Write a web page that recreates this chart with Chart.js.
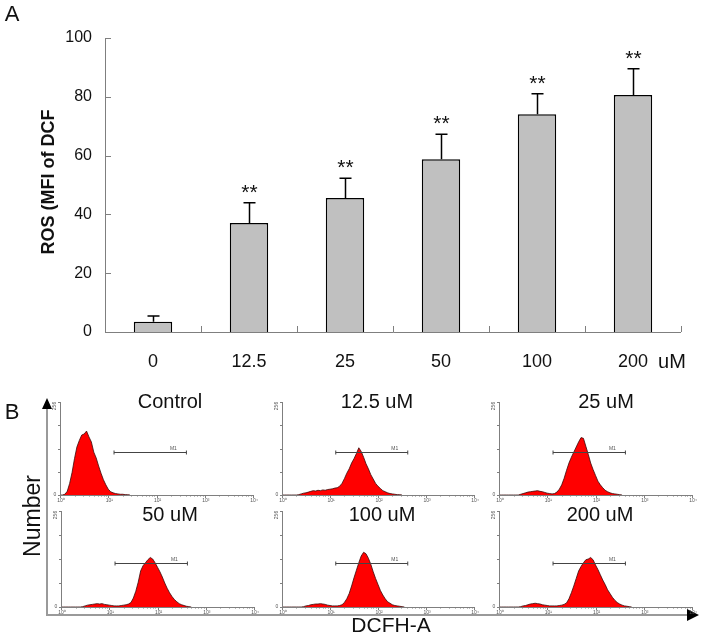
<!DOCTYPE html>
<html>
<head>
<meta charset="utf-8">
<script src="https://cdn.jsdelivr.net/npm/chart.js@4.4.1/dist/chart.umd.min.js"></script>
<style>
  html, body { margin: 0; padding: 0; background: #fff; }
  #wrap { position: relative; width: 704px; height: 637px; overflow: hidden; }
  #wrap canvas { position: absolute; }
</style>
</head>
<body>
<div id="wrap">
  <canvas id="main" width="704" height="637" style="left:0;top:0"></canvas>
</div>
<script>
// Panel A: ROS (MFI of DCF) by dose
const DOSES    = ['0', '12.5', '25', '50', '100', '200'];
const ROS_MEAN = [3.5, 37.1, 45.6, 58.8, 74.1, 80.6];
const ROS_SD   = [1.9, 6.9, 6.7, 8.5, 6.9, 8.9];
const SIG      = ['', '**', '**', '**', '**', '**'];
const Y_TICKS  = [0, 20, 40, 60, 80, 100];

// Panel B: flow histograms, x in decades (log10 of DCF fluorescence)
const HIST_X = [0, 0.05, 0.1, 0.15, 0.2, 0.25, 0.3, 0.35, 0.4, 0.45, 0.5, 0.55, 0.6, 0.65, 0.7, 0.75,
  0.8, 0.85, 0.9, 0.95, 1.0, 1.05, 1.1, 1.15, 1.2, 1.25, 1.3, 1.35, 1.4, 1.45, 1.5, 1.55, 1.6, 1.65,
  1.7, 1.75, 1.8, 1.85, 1.9, 1.95, 2.0, 2.05, 2.1, 2.15, 2.2, 2.25, 2.3, 2.35, 2.4, 2.45, 2.5, 2.55,
  2.6, 2.65, 2.7, 2.75, 2.8, 2.85, 2.9, 2.95, 3.0];
const HIST_DECADES = [0, 1, 2, 3, 4];
const HIST_DECADE_LABELS = ['10\u2070', '10\u00b9', '10\u00b2', '10\u00b3', '10\u2074'];
const M1_GATE = [1.12, 2.62];
const M1_LEVEL = 118;

const CNT_CTRL = [0, 0, 2, 10, 32, 62, 100, 132, 150, 165, 168, 176, 160, 146, 118, 102, 80, 60, 42, 28,
  16, 9, 6, 4, 3, 2, 2, 1, 1, 0];
const CNT_12 = [0, 0, 0, 0, 0, 0, 0, 1, 3, 5, 6, 8, 10, 12, 11, 13, 12, 14, 13, 15, 16, 17, 19, 20, 24,
  32, 45, 60, 72, 88, 100, 114, 130, 120, 104, 86, 72, 56, 44, 32, 24, 18, 12, 9, 6, 4, 3, 2, 1, 1, 0];
const CNT_25 = [0, 0, 0, 0, 0, 0, 0, 0, 0, 2, 4, 6, 8, 9, 10, 11, 12, 10, 9, 7, 5, 4, 3, 4, 8, 16, 28,
  46, 68, 88, 104, 118, 132, 146, 158, 156, 134, 112, 88, 70, 54, 38, 28, 20, 13, 9, 6, 4, 3, 2, 1, 0];
const CNT_50 = [0, 0, 0, 0, 0, 0, 0, 0, 0, 1, 3, 5, 6, 7, 8, 9, 8, 9, 7, 6, 5, 4, 3, 3, 3, 4, 5, 6, 8,
  12, 24, 42, 66, 96, 110, 118, 126, 132, 128, 118, 106, 94, 80, 64, 50, 38, 28, 20, 14, 9, 6, 4, 2, 1, 0];
const CNT_100 = [0, 0, 0, 0, 0, 0, 0, 0, 0, 1, 3, 4, 6, 7, 8, 8, 9, 8, 7, 5, 4, 3, 3, 3, 4, 6, 12, 22,
  36, 56, 78, 98, 118, 136, 146, 142, 130, 114, 94, 76, 60, 44, 32, 22, 14, 10, 6, 4, 3, 2, 1, 0];
const CNT_200 = [0, 0, 0, 0, 0, 0, 0, 0, 0, 1, 3, 4, 6, 8, 9, 10, 9, 8, 6, 5, 4, 3, 3, 3, 3, 4, 5, 7,
  11, 22, 38, 56, 76, 96, 108, 118, 126, 128, 132, 126, 112, 100, 86, 72, 60, 46, 36, 26, 18, 12, 8, 5,
  3, 2, 1, 0];

const HIST_TITLES = ['Control', '12.5 uM', '25 uM', '50 uM', '100 uM', '200 uM'];
const HIST_COUNTS = [CNT_CTRL, CNT_12, CNT_25, CNT_50, CNT_100, CNT_200];

// layout only: plot box [left, top, right, bottom] and title placement
const HIST_BOXES = [
  [60, 402, 253, 495], [282, 402, 474, 495], [499, 402, 692, 495],
  [61, 511, 254, 607], [282, 511, 474, 607], [499, 511, 692, 607]
];
const HIST_TITLE_POS = [[110, 0], [95, 0], [107, 0], [109, 4], [100, 4], [101, 4]];

const FONT = '"Liberation Sans", Arial, sans-serif';
const AXIS_GRAY = '#7f7f7f';

// ── Panel A decorations ─────────────────────────────────────────────────────

const panelA = {
  id: 'panelA',
  afterDatasetsDraw(chart) {
    const ctx = chart.ctx, ca = chart.chartArea;
    const xs = chart.scales.x, ys = chart.scales.y;
    ctx.save();

    // axes
    ctx.strokeStyle = AXIS_GRAY;
    ctx.lineWidth = 1;
    ctx.beginPath();
    ctx.moveTo(ca.left + 0.5, ca.top);
    ctx.lineTo(ca.left + 0.5, ca.bottom + 0.5);
    ctx.lineTo(ca.right, ca.bottom + 0.5);
    Y_TICKS.forEach(v => {
      const py = Math.round(ys.getPixelForValue(v)) + 0.5;
      ctx.moveTo(ca.left, py);
      ctx.lineTo(ca.left + 6, py);
    });
    const half = (xs.getPixelForValue(1) - xs.getPixelForValue(0)) / 2;
    for (let i = 0; i <= DOSES.length; i++) {
      const px = Math.round(xs.getPixelForValue(i) - half) + 0.5;
      ctx.moveTo(px, ca.bottom);
      ctx.lineTo(px, ca.bottom - 6);
    }
    ctx.stroke();

    // error bars + significance
    ctx.strokeStyle = '#000';
    ctx.lineWidth = 1.5;
    ctx.fillStyle = '#111';
    ctx.font = '21px ' + FONT;
    ctx.textAlign = 'center';
    ctx.textBaseline = 'alphabetic';
    ROS_MEAN.forEach((m, i) => {
      const cx = Math.round(xs.getPixelForValue(i)) + 0.5;
      const yb = ys.getPixelForValue(m);
      const yt = ys.getPixelForValue(m + ROS_SD[i]);
      ctx.beginPath();
      ctx.moveTo(cx, yb);
      ctx.lineTo(cx, yt);
      ctx.moveTo(cx - 6, yt);
      ctx.lineTo(cx + 6, yt);
      ctx.stroke();
      if (SIG[i]) ctx.fillText(SIG[i], cx, yt - 4);
    });

    // labels
    ctx.fillStyle = '#111';
    ctx.font = '20px ' + FONT;
    ctx.textBaseline = 'middle';
    ctx.fillText('uM', 672, 362);
    ctx.font = '22px ' + FONT;
    ctx.fillText('A', 12, 15);
    ctx.save();
    ctx.translate(49, 182);
    ctx.rotate(-Math.PI / 2);
    ctx.font = 'bold 18px ' + FONT;
    ctx.fillText('ROS (MFI of DCF', 0, 0);
    ctx.restore();

    // Panel B frame
    ctx.fillStyle = '#111';
    ctx.font = '22px ' + FONT;
    ctx.fillText('B', 12, 413);
    ctx.font = '23px ' + FONT;
    ctx.save();
    ctx.translate(34, 516);
    ctx.rotate(-Math.PI / 2);
    ctx.fillText('Number', 0, 0);
    ctx.restore();
    ctx.font = '21px ' + FONT;
    ctx.fillText('DCFH-A', 391, 626);

    ctx.strokeStyle = '#9a9a9a';
    ctx.lineWidth = 2;
    ctx.beginPath();
    ctx.moveTo(47, 406);
    ctx.lineTo(47, 615);
    ctx.lineTo(690, 615);
    ctx.stroke();
    ctx.fillStyle = '#000';
    ctx.beginPath();
    ctx.moveTo(47, 398); ctx.lineTo(42, 409); ctx.lineTo(52, 409); ctx.closePath();
    ctx.moveTo(699, 615); ctx.lineTo(687, 609); ctx.lineTo(687, 621); ctx.closePath();
    ctx.fill();
    ctx.restore();
  }
};

new Chart(document.getElementById('main').getContext('2d'), {
  type: 'bar',
  data: {
    labels: DOSES,
    datasets: [{
      data: ROS_MEAN,
      backgroundColor: '#c0c0c0',
      borderColor: '#000',
      borderWidth: 1.5,
      barPercentage: 0.4,
      categoryPercentage: 1
    }]
  },
  options: {
    responsive: false,
    animation: false,
    layout: { padding: { left: 0, top: 38, right: 23, bottom: 265 } },
    plugins: { legend: { display: false }, tooltip: { enabled: false } },
    scales: {
      x: {
        grid: { display: false, drawTicks: false },
        border: { display: false },
        ticks: { color: '#111', font: { family: FONT, size: 18 }, padding: 19 },
        afterFit: s => { s.height = 40; }
      },
      y: {
        min: 0, max: 100,
        afterBuildTicks: s => { s.ticks = Y_TICKS.map(v => ({ value: v })); },
        grid: { display: false, drawTicks: false },
        border: { display: false },
        ticks: { color: '#111', font: { family: FONT, size: 16 }, padding: 13 },
        afterFit: s => { s.width = 105; }
      }
    }
  },
  plugins: [panelA]
});

// ── Panel B histograms ──────────────────────────────────────────────────────

const histDeco = {
  id: 'histDeco',
  afterDatasetsDraw(chart, args, opts) {
    const ctx = chart.ctx, ca = chart.chartArea;
    const xs = chart.scales.x, ys = chart.scales.y;
    ctx.save();
    ctx.strokeStyle = AXIS_GRAY;
    ctx.lineWidth = 1;
    ctx.beginPath();
    ctx.moveTo(ca.left + 0.5, ca.top);
    ctx.lineTo(ca.left + 0.5, ca.bottom + 0.5);
    ctx.lineTo(ca.right, ca.bottom + 0.5);
    // minor ticks along x (log decades)
    HIST_DECADES.slice(0, -1).forEach(d => {
      for (let k = 1; k <= 10; k++) {
        const px = Math.round(xs.getPixelForValue(d + Math.log10(k))) + 0.5;
        ctx.moveTo(px, ca.bottom);
        ctx.lineTo(px, ca.bottom + (k === 1 || k === 10 ? 3 : 1.5));
      }
    });
    [0, 64, 128, 192, 256].forEach(v => {
      const py = Math.round(ys.getPixelForValue(v)) + 0.5;
      ctx.moveTo(ca.left - 2, py);
      ctx.lineTo(ca.left, py);
    });
    ctx.stroke();

    // M1 gate
    const g0 = xs.getPixelForValue(M1_GATE[0]), g1 = xs.getPixelForValue(M1_GATE[1]);
    const gy = Math.round(ys.getPixelForValue(M1_LEVEL)) + 0.5;
    ctx.strokeStyle = '#444';
    ctx.beginPath();
    ctx.moveTo(g0, gy); ctx.lineTo(g1, gy);
    ctx.moveTo(g0, gy - 2); ctx.lineTo(g0, gy + 2);
    ctx.moveTo(g1, gy - 2); ctx.lineTo(g1, gy + 2);
    ctx.stroke();

    // tiny labels
    ctx.fillStyle = '#555';
    ctx.font = '5px ' + FONT;
    ctx.textAlign = 'center';
    ctx.textBaseline = 'top';
    HIST_DECADES.forEach((d, i) => {
      ctx.fillText(HIST_DECADE_LABELS[i], xs.getPixelForValue(d) + 1, ca.bottom + 3);
    });
    ctx.textBaseline = 'bottom';
    ctx.fillText('M1', xs.getPixelForValue(2.35), gy - 1);
    ctx.textBaseline = 'middle';
    ctx.fillText('0', ca.left - 5, ca.bottom);
    ctx.save();
    ctx.translate(ca.left - 5, ca.top + 4);
    ctx.rotate(-Math.PI / 2);
    ctx.fillText('256', 0, 0);
    ctx.restore();

    // title
    ctx.fillStyle = '#111';
    ctx.font = '20px ' + FONT;
    ctx.textBaseline = 'middle';
    ctx.fillText(opts.title, ca.left + opts.dx, ca.top + opts.dy);
    ctx.restore();
  }
};

const PAD = { left: 24, top: 16, right: 10, bottom: 12 };
const wrap = document.getElementById('wrap');

HIST_COUNTS.forEach((counts, i) => {
  const [l, t, r, b] = HIST_BOXES[i];
  const cv = document.createElement('canvas');
  cv.width = (r - l) + PAD.left + PAD.right;
  cv.height = (b - t) + PAD.top + PAD.bottom;
  cv.style.left = (l - PAD.left) + 'px';
  cv.style.top = (t - PAD.top) + 'px';
  wrap.appendChild(cv);

  new Chart(cv.getContext('2d'), {
    type: 'line',
    data: {
      datasets: [{
        data: counts.map((c, k) => ({ x: HIST_X[k], y: c })),
        borderColor: '#3a0a0a',
        borderWidth: 0.8,
        backgroundColor: '#ff0000',
        fill: 'origin',
        pointRadius: 0,
        tension: 0
      }]
    },
    options: {
      responsive: false,
      animation: false,
      layout: { padding: PAD },
      plugins: {
        legend: { display: false },
        tooltip: { enabled: false },
        histDeco: { title: HIST_TITLES[i], dx: HIST_TITLE_POS[i][0], dy: HIST_TITLE_POS[i][1] }
      },
      scales: {
        x: { type: 'linear', min: 0, max: 4, display: false },
        y: { min: 0, max: 256, display: false }
      }
    },
    plugins: [histDeco]
  });
});
</script>
</body>
</html>
